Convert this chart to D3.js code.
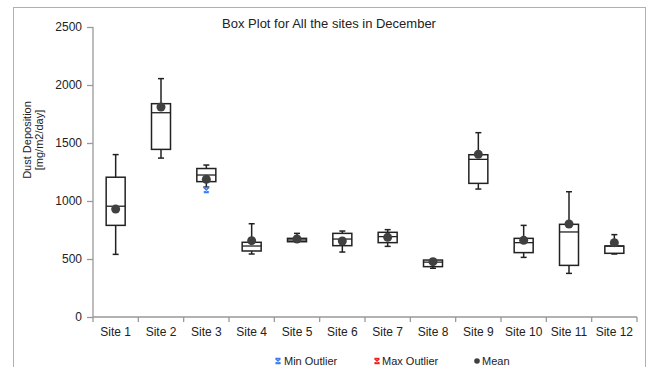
<!DOCTYPE html>
<html>
<head>
<meta charset="utf-8">
<script src="https://cdn.jsdelivr.net/npm/d3@7"></script>
<style>
  body { margin: 0; background: #fff; }
  text { font-family: "Liberation Sans", Arial, sans-serif; fill: #222; }
</style>
</head>
<body>
<div id="chart"></div>
<script>
// values
const sites = ["Site 1", "Site 2", "Site 3", "Site 4", "Site 5", "Site 6", "Site 7", "Site 8", "Site 9", "Site 10", "Site 11", "Site 12"];
const whiskerLow  = [540, 1370, 1120, 543, 649, 560, 609, 420, 1103, 514, 376, 543];
const q1          = [790, 1445, 1167, 569, 649, 615, 641, 434, 1152, 555, 445, 549];
const median      = [955, 1761, 1224, 612, 664, 672, 693, 473, 1359, 641, 733, 612];
const q3          = [1205, 1839, 1280, 644, 678, 721, 730, 491, 1399, 678, 799, 612];
const whiskerHigh = [1400, 2055, 1310, 804, 721, 741, 753, 500, 1589, 790, 1080, 710];
const means       = [930, 1810, 1187, 658, 672, 655, 687, 477, 1402, 661, 802, 641];
const minOutliers = [null, null, 1095, null, null, null, null, null, null, null, null, null];
const yTicks = [0, 500, 1000, 1500, 2000, 2500];

const width = 651, height = 367;
const margin = { top: 27, right: 14, bottom: 50, left: 93 };
const plotW = 637 - margin.left;
const plotH = 317 - margin.top;

const svg = d3.select("#chart")
    .append("svg")
    .attr("width", width)
    .attr("height", height);

// outer frame
svg.append("rect")
    .attr("x", 13.5).attr("y", 7.5)
    .attr("width", 632).attr("height", 370)
    .attr("fill", "none")
    .attr("stroke", "#b0b0b0");

const g = svg.append("g")
    .attr("transform", `translate(${margin.left},${margin.top})`);

const x = d3.scaleBand()
    .domain(sites)
    .range([0, plotW]);

const y = d3.scaleLinear()
    .domain([0, 2500])
    .range([plotH, 0]);

// y axis
const yAxis = g.append("g")
    .call(d3.axisLeft(y).tickValues(yTicks).tickFormat(d3.format("d")).tickSize(6).tickPadding(5));
yAxis.selectAll("text").style("font-size", "12px").attr("fill", "#222");
yAxis.selectAll("line, path").attr("stroke", "#999").attr("stroke-width", 1.3);
yAxis.select(".domain").attr("d", `M0,${plotH}V0`);

// x axis with ticks at the category boundaries
const xAxis = g.append("g")
    .attr("transform", `translate(0,${plotH})`)
    .call(d3.axisBottom(x).tickSize(0).tickPadding(10));
xAxis.selectAll("text").style("font-size", "12px").attr("fill", "#222");
xAxis.select(".domain").attr("d", `M0,0H${plotW}`).attr("stroke", "#999").attr("stroke-width", 1.3);
xAxis.selectAll(".bound")
    .data(d3.range(sites.length + 1))
    .enter().append("line")
    .attr("x1", i => i * x.step()).attr("x2", i => i * x.step())
    .attr("y1", 0).attr("y2", 5)
    .attr("stroke", "#999").attr("stroke-width", 1.3);

const boxW = 19, capW = 6;
const data = sites.map((s, i) => ({
    site: s, lo: whiskerLow[i], q1: q1[i], med: median[i], q3: q3[i],
    hi: whiskerHigh[i], mean: means[i], minOut: minOutliers[i]
}));

const boxes = g.selectAll(".box")
    .data(data)
    .enter().append("g")
    .attr("class", "box")
    .attr("transform", d => `translate(${x(d.site) + x.bandwidth() / 2},0)`);

const ink = "#222";
// whiskers
boxes.append("line")
    .attr("y1", d => y(d.hi)).attr("y2", d => y(d.q3))
    .attr("stroke", ink).attr("stroke-width", 1.5);
boxes.append("line")
    .attr("y1", d => y(d.q1)).attr("y2", d => y(d.lo))
    .attr("stroke", ink).attr("stroke-width", 1.5);
boxes.append("line")
    .attr("x1", -capW / 2).attr("x2", capW / 2)
    .attr("y1", d => y(d.hi)).attr("y2", d => y(d.hi))
    .attr("stroke", ink).attr("stroke-width", 1.5);
boxes.append("line")
    .attr("x1", -capW / 2).attr("x2", capW / 2)
    .attr("y1", d => y(d.lo)).attr("y2", d => y(d.lo))
    .attr("stroke", ink).attr("stroke-width", 1.5);
// box
boxes.append("rect")
    .attr("x", -boxW / 2).attr("width", boxW)
    .attr("y", d => y(d.q3))
    .attr("height", d => Math.max(y(d.q1) - y(d.q3), 2))
    .attr("fill", "#fff")
    .attr("stroke", ink).attr("stroke-width", 1.5);
boxes.append("line")
    .attr("x1", -boxW / 2).attr("x2", boxW / 2)
    .attr("y1", d => y(d.med)).attr("y2", d => y(d.med))
    .attr("stroke", ink).attr("stroke-width", 1.3);
// mean
boxes.append("circle")
    .attr("cy", d => y(d.mean))
    .attr("r", 4.5)
    .attr("fill", "#404040");
// min outliers
const xMark = (sel, color) => {
    sel.append("path")
        .attr("d", "M-2.5,-2.5L2.5,2.5M2.5,-2.5L-2.5,2.5M-2.5,-2.5H2.5M-2.5,2.5H2.5")
        .attr("stroke", color).attr("stroke-width", 1.5).attr("fill", "none");
};
boxes.filter(d => d.minOut != null)
    .append("g")
    .attr("transform", d => `translate(0,${y(d.minOut)})`)
    .call(xMark, "#3a7bf0");

// title
svg.append("text")
    .attr("x", 329).attr("y", 28)
    .attr("text-anchor", "middle")
    .style("font-size", "13px")
    .text("Box Plot for All the sites in December");

// y label
const yl = svg.append("text")
    .attr("transform", "translate(31,140) rotate(-90)")
    .attr("text-anchor", "middle")
    .style("font-size", "11px");
yl.append("tspan").attr("x", 0).attr("dy", 0).text("Dust Deposition");
yl.append("tspan").attr("x", 0).attr("dy", 12).text("[mg/m2/day]");

// legend
const legend = svg.append("g").attr("transform", "translate(0,361)");
legend.append("g").attr("transform", "translate(278,0)").call(xMark, "#3a7bf0");
legend.append("text").attr("x", 284).attr("y", 4).style("font-size", "11px").text("Min Outlier");
legend.append("g").attr("transform", "translate(377,0)").call(xMark, "#ee2222");
legend.append("text").attr("x", 382).attr("y", 4).style("font-size", "11px").text("Max Outlier");
legend.append("circle").attr("cx", 477).attr("cy", 0).attr("r", 2.8).attr("fill", "#404040");
legend.append("text").attr("x", 482).attr("y", 4).style("font-size", "11px").text("Mean");
</script>
</body>
</html>
